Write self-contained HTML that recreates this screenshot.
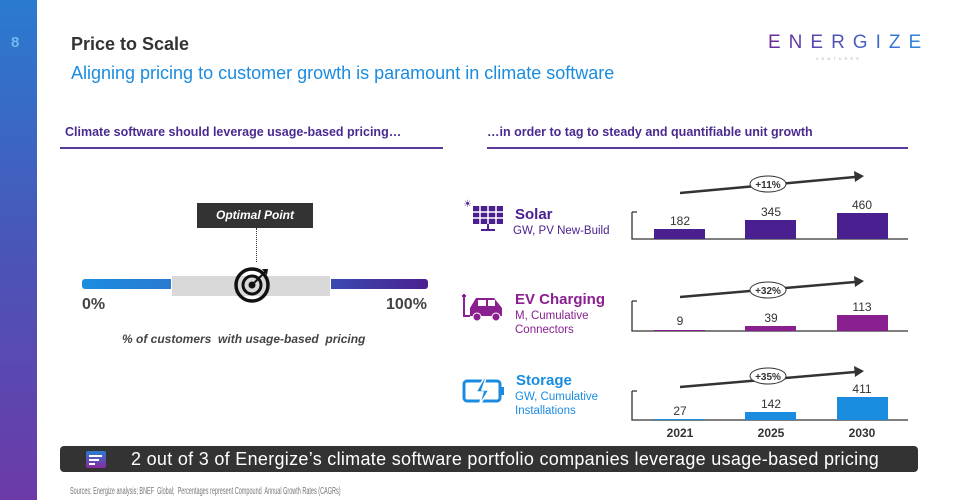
<!DOCTYPE html><html><head><meta charset="utf-8"><style>
body{margin:0;width:958px;height:500px;position:relative;background:#fff;font-family:"Liberation Sans",sans-serif;overflow:hidden}
.a{position:absolute;white-space:nowrap}
</style></head><body>
<div class="a" style="left:0;top:0;width:37px;height:500px;background:linear-gradient(#2a7bd0,#4a55b8 50%,#6c3aa8)"></div>
<div class="a" style="left:11px;top:34px;font-size:15px;font-weight:bold;color:#6fb8f0">8</div>
<div class="a" style="left:71px;top:34px;font-size:18px;font-weight:bold;color:#333">Price to Scale</div>
<div class="a" style="left:71px;top:63px;font-size:18px;color:#1a8ce0">Aligning pricing to customer growth is paramount in climate software</div>
<div class="a" style="left:768px;top:32px;font-size:19px;letter-spacing:8px;background:linear-gradient(90deg,#6a2a9a,#2a8ae0);-webkit-background-clip:text;color:transparent">ENERGIZE</div>
<div class="a" style="left:816px;top:56px;font-size:4px;letter-spacing:3px;color:#aaa">VENTURES</div>

<div class="a" style="left:65px;top:125px;font-size:12.5px;font-weight:bold;color:#4a2a90">Climate software should leverage usage-based pricing…</div>
<div class="a" style="left:60px;top:147px;width:383px;height:2px;background:#5a3a9a"></div>
<div class="a" style="left:487px;top:125px;font-size:12.5px;font-weight:bold;color:#4a2a90">…in order to tag to steady and quantifiable unit growth</div>
<div class="a" style="left:487px;top:147px;width:421px;height:2px;background:#5a3a9a"></div>

<div class="a" style="left:197px;top:203px;width:116px;height:25px;background:#333;color:#fff;font-size:12px;font-weight:bold;font-style:italic;text-align:center;line-height:25px">Optimal Point</div>
<div class="a" style="left:256px;top:228px;height:34px;border-left:1px dotted #333"></div>
<div class="a" style="left:82px;top:279px;width:89px;height:10px;background:linear-gradient(90deg,#1a8ce0,#2a7bd0);border-radius:3px 0 0 3px"></div>
<div class="a" style="left:172px;top:276px;width:158px;height:20px;background:#d9d9d9"></div>
<div class="a" style="left:331px;top:279px;width:97px;height:10px;background:linear-gradient(90deg,#3a4ab0,#4a2090);border-radius:0 3px 3px 0"></div>
<svg class="a" style="left:232px;top:265px" width="44" height="40"><circle cx="20" cy="20" r="16" fill="none" stroke="#111" stroke-width="3.5"/><circle cx="20" cy="20" r="9" fill="none" stroke="#111" stroke-width="3"/><circle cx="20" cy="20" r="3.5" fill="#111"/><line x1="20" y1="20" x2="33" y2="7" stroke="#111" stroke-width="2"/><path d="M30 4l6 0-1 6z" fill="#111"/></svg>
<div class="a" style="left:82px;top:296px;font-size:16px;font-weight:bold;color:#444">0%</div>
<div class="a" style="left:386px;top:296px;font-size:16px;font-weight:bold;color:#444">100%</div>
<div class="a" style="left:122px;top:332px;font-size:12px;font-weight:bold;font-style:italic;color:#444">% of customers&nbsp; with usage-based&nbsp; pricing</div>

<svg class="a" style="left:463px;top:198px" width="44" height="38"><text x="0" y="9" font-size="10" fill="#4a2090">☀</text><g fill="#4a2090"><rect x="10" y="8" width="30" height="18"/></g><g stroke="#fff" stroke-width="1.5"><line x1="10" y1="14" x2="40" y2="14"/><line x1="10" y1="20" x2="40" y2="20"/><line x1="17" y1="8" x2="17" y2="26"/><line x1="25" y1="8" x2="25" y2="26"/><line x1="33" y1="8" x2="33" y2="26"/></g><rect x="24" y="26" width="2" height="6" fill="#4a2090"/><rect x="18" y="31" width="14" height="2" fill="#4a2090"/></svg>
<svg class="a" style="left:458px;top:292px" width="52" height="32"><path d="M6 2v8M4 4h4M6 10v14h6" stroke="#8a2090" stroke-width="2" fill="none"/><path d="M12 16l6-10h18l8 10v8H12z" fill="#8a2090"/><rect x="20" y="8" width="8" height="6" fill="#fff"/><rect x="30" y="8" width="7" height="6" fill="#fff"/><circle cx="19" cy="25" r="4" fill="#8a2090" stroke="#fff"/><circle cx="38" cy="25" r="4" fill="#8a2090" stroke="#fff"/></svg>
<svg class="a" style="left:462px;top:378px" width="46" height="30"><rect x="2" y="3" width="36" height="20" rx="3" fill="none" stroke="#1a8ce0" stroke-width="3"/><rect x="39" y="9" width="3" height="8" fill="#1a8ce0"/><path d="M22 0l-8 14h7l-4 14 10-16h-7l4-12z" fill="#1a8ce0" stroke="#fff" stroke-width="1.5"/></svg>

<div class="a" style="left:515px;top:206px;font-size:15px;font-weight:bold;color:#4a2090">Solar</div>
<div class="a" style="left:513px;top:225px;font-size:11.5px;color:#4a2090">GW, PV New-Build</div>
<div class="a" style="left:515px;top:291px;font-size:15px;font-weight:bold;color:#8a2090">EV Charging</div>
<div class="a" style="left:515px;top:309px;font-size:11.5px;color:#8a2090;line-height:14px">M, Cumulative<br>Connectors</div>
<div class="a" style="left:516px;top:372px;font-size:15px;font-weight:bold;color:#1a8ce0">Storage</div>
<div class="a" style="left:515px;top:390px;font-size:11.5px;color:#1a8ce0;line-height:14px">GW, Cumulative<br>Installations</div>

<svg class="a" style="left:0;top:0" width="958" height="500">
<g stroke="#333" stroke-width="1.3" fill="none">
<path d="M632 212V239H908M632 212h5"/><path d="M632 301V331H908M632 301h5"/><path d="M632 391V420H908M632 391h5"/>
</g>
<g fill="#4a2090"><rect x="654" y="229" width="51" height="10"/><rect x="745" y="220" width="51" height="19"/><rect x="837" y="213" width="51" height="26"/></g>
<g fill="#8a2090"><rect x="654" y="330" width="51" height="1"/><rect x="745" y="326" width="51" height="5"/><rect x="837" y="315" width="51" height="16"/></g>
<g fill="#1a8ce0"><rect x="654" y="419" width="51" height="1"/><rect x="745" y="412" width="51" height="8"/><rect x="837" y="397" width="51" height="23"/></g>
<g stroke="#333" stroke-width="2.5"><line x1="680" y1="193" x2="855" y2="177"/><line x1="680" y1="297" x2="855" y2="282"/><line x1="680" y1="387" x2="855" y2="372"/></g>
<g fill="#333"><path d="M864 176l-10-5 1 11z"/><path d="M864 281l-10-5 1 11z"/><path d="M864 371l-10-5 1 11z"/></g>
<g fill="#fff" stroke="#333"><ellipse cx="768" cy="184" rx="18" ry="8"/><ellipse cx="768" cy="290" rx="18" ry="8"/><ellipse cx="768" cy="376" rx="18" ry="8"/></g>
<g font-size="10" font-weight="bold" fill="#333" text-anchor="middle" font-family="Liberation Sans"><text x="768" y="188">+11%</text><text x="768" y="294">+32%</text><text x="768" y="380">+35%</text></g>
<g font-size="12" fill="#333" text-anchor="middle" font-family="Liberation Sans">
<text x="680" y="225">182</text><text x="771" y="216">345</text><text x="862" y="209">460</text>
<text x="680" y="325">9</text><text x="771" y="322">39</text><text x="862" y="311">113</text>
<text x="680" y="415">27</text><text x="771" y="408">142</text><text x="862" y="393">411</text>
</g>
<g font-size="12" font-weight="bold" fill="#333" text-anchor="middle" font-family="Liberation Sans"><text x="680" y="437">2021</text><text x="771" y="437">2025</text><text x="862" y="437">2030</text></g>
</svg>

<div class="a" style="left:60px;top:446px;width:858px;height:26px;background:#333;border-radius:4px"></div>
<div class="a" style="left:86px;top:451px;width:20px;height:17px;background:linear-gradient(#2a7bd0,#8a2aa0);border-radius:2px"></div>
<div class="a" style="left:89px;top:455px;width:13px;height:1.5px;background:#fff"></div>
<div class="a" style="left:89px;top:459px;width:10px;height:1.5px;background:#fff"></div>
<div class="a" style="left:89px;top:463px;width:6px;height:1.5px;background:#fff"></div>
<div class="a" style="left:131px;top:449px;font-size:18px;color:#fff;letter-spacing:0.3px">2 out of 3 of Energize’s climate software portfolio companies leverage usage-based pricing</div>
<div class="a" style="left:70px;top:486px;font-size:10px;color:#777;transform:scaleX(0.55);transform-origin:left top">Sources: Energize analysis; BNEF&nbsp; Global;&nbsp; Percentages represent Compound&nbsp; Annual Growth Rates (CAGRs)</div>
</body></html>
